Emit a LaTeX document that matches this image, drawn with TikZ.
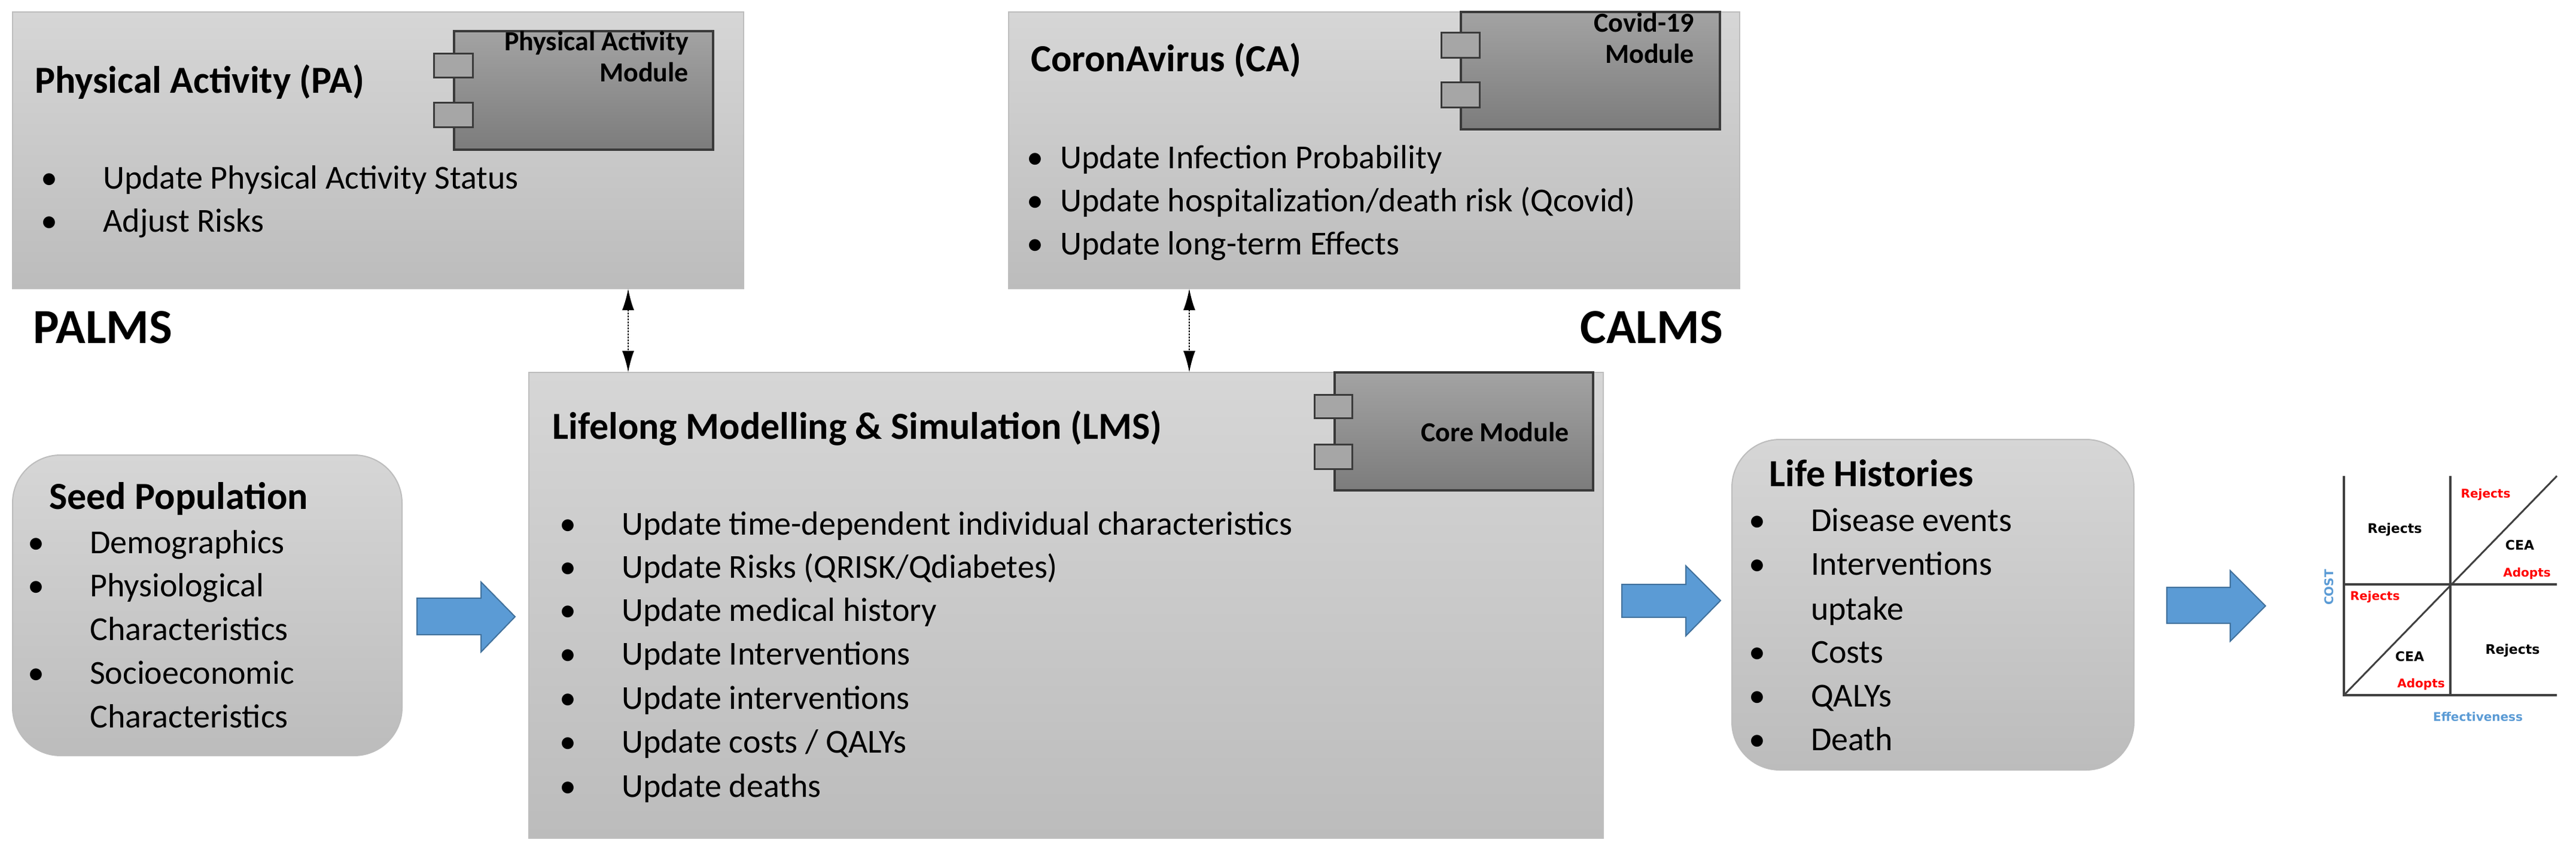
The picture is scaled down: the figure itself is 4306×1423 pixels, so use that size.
\documentclass[tikz,border=0pt]{standalone}
\usepackage{fontspec}
\setmainfont{Carlito}
\newfontfamily\chartfont{DejaVu Sans}
\usetikzlibrary{arrows.meta}
\definecolor{boxtop}{HTML}{D6D6D6}
\definecolor{boxbot}{HTML}{BCBCBC}
\definecolor{boxline}{HTML}{BDBDBD}
\definecolor{modtop}{HTML}{A3A3A3}
\definecolor{modbot}{HTML}{7C7C7C}
\definecolor{modline}{HTML}{3A3A3A}
\definecolor{flow}{HTML}{5B9BD5}
\definecolor{flowline}{HTML}{41719C}
\definecolor{axislbl}{HTML}{5B9BD5}
\definecolor{redlbl}{HTML}{FF0000}
\tikzset{
  panel/.style={draw=boxline, line width=2pt, top color=boxtop, bottom color=boxbot},
  module/.style={draw=modline, line width=4pt, top color=modtop, bottom color=modbot},
  tab/.style={draw=modline, line width=3pt, fill=gray!70},
  ttl/.style={anchor=base west, inner sep=0, font=\fontsize{64}{70}\selectfont\bfseries},
  body/.style={anchor=base west, inner sep=0, font=\fontsize{56}{64}\selectfont},
  modtxt/.style={anchor=base east, inner sep=0, font=\fontsize{46}{52}\selectfont\bfseries, align=right},
  big/.style={anchor=base west, inner sep=0, font=\fontsize{82}{90}\selectfont\bfseries},
  flowarrow/.style={fill=flow, draw=flowline, line width=2pt},
  link/.style={densely dashed, line width=2.5pt, {Latex[length=36pt,width=20pt]}-{Latex[length=36pt,width=20pt]}},
  axis/.style={draw=black!75, line width=4pt},
  blk/.style={inner sep=0, font=\chartfont\fontsize{22}{24}\selectfont\bfseries},
  red/.style={inner sep=0, text=redlbl, font=\chartfont\fontsize{20}{22}\selectfont\bfseries},
  axl/.style={inner sep=0, text=axislbl, font=\chartfont\fontsize{20}{22}\selectfont\bfseries},
}
\newcommand{\bul}[3]{\node[body] at (#1-104,#3) {\textbullet}; \node[body] at (#1,#3) {#2};}
\newcommand{\bulc}[3]{\node[body] at (#1-56,#3) {\textbullet}; \node[body] at (#1,#3) {#2};}
\begin{document}
\begin{tikzpicture}[x=1pt,y=-1pt]
\useasboundingbox (0,0) rectangle (4306,1423);
% PA panel
\path[panel] (21,20) rectangle (1243,482);
\coordinate (PAb) at (1050,482);
\path[module] (759,52) rectangle (1192,250);
\path[tab] (725,90) rectangle (790,130);
\path[tab] (725,172) rectangle (790,213);
\node[modtxt] (pamod) at (1151,137) {Physical Activity\\Module};
\node[ttl] (pat) at (58,156) {Physical Activity (PA)};
\bul{172}{Update Physical Activity Status}{316}
\bul{172}{Adjust Risks}{387}
\node[big] (palms) at (55,573) {PALMS};
% CA panel
\path[panel] (1686,20) rectangle (2908,482);
\coordinate (CAb) at (1988,482);
\path[module] (2442,20) rectangle (2875,216);
\path[tab] (2409,55) rectangle (2473,97);
\path[tab] (2409,138) rectangle (2473,180);
\node[modtxt] at (2832,106) {Covid-19\\Module};
\node[ttl] (cat) at (1723,120) {CoronAvirus (CA)};
\bulc{1772}{Update Infection Probability}{282}
\bulc{1772}{Update hospitalization/death risk (Qcovid)}{353}
\bulc{1772}{Update long-term Effects}{425}
\node[big, anchor=base east] (calms) at (2880,573) {CALMS};
% LMS panel
\path[panel] (884,622) rectangle (2680,1400);
\coordinate (LMSa) at (1050,622);
\coordinate (LMSb) at (1988,622);
\path[module] (2231,622) rectangle (2663,819);
\path[tab] (2197,659) rectangle (2260,698);
\path[tab] (2197,742) rectangle (2260,783);
\node[modtxt] at (2623,737) {Core Module};
\node[ttl] (lmst) at (923,733) {Lifelong Modelling \& Simulation (LMS)};
\bul{1039}{Update time-dependent individual characteristics}{893}
\bul{1039}{Update Risks (QRISK/Qdiabetes)}{965}
\bul{1039}{Update medical history}{1037}
\bul{1039}{Update Interventions}{1110}
\bul{1039}{Update interventions}{1184}
\bul{1039}{Update costs / QALYs}{1257}
\bul{1039}{Update deaths}{1331}
% links
\draw[link] (PAb) -- (LMSa);
\draw[link] (CAb) -- (LMSb);
% Seed population
\path[panel, rounded corners=80pt] (21,760) rectangle (672,1262);
\node[ttl] (seedt) at (82,850) {Seed Population};
\bul{150}{Demographics}{924}
\bul{150}{Physiological}{996}
\node[body] at (150,1069) {Characteristics};
\bul{150}{Socioeconomic}{1142}
\node[body] at (150,1215) {Characteristics};
% Life histories
\path[panel, rounded corners=80pt] (2895,734) rectangle (3567,1286);
\node[ttl] (lht) at (2957,812) {Life Histories};
\bul{3027}{Disease events}{887}
\bul{3027}{Interventions}{960}
\node[body] at (3027,1035) {uptake};
\bul{3027}{Costs}{1107}
\bul{3027}{QALYs}{1180}
\bul{3027}{Death}{1253}
% flow arrows
\path[flowarrow] (697,999) -- (804,999) -- (804,972) -- (861,1030) -- (804,1089) -- (804,1060) -- (697,1060) -- cycle;
\path[flowarrow] (2711,976) -- (2818,976) -- (2818,945) -- (2876,1003) -- (2818,1062) -- (2818,1031) -- (2711,1031) -- cycle;
\path[flowarrow] (3622,981) -- (3728,981) -- (3728,953) -- (3787,1012) -- (3728,1071) -- (3728,1041) -- (3622,1041) -- cycle;
% CEA chart
\draw[axis] (3918,795) -- (3918,1161) -- (4274,1161);
\draw[axis] (3918,976) -- (4274,976);
\draw[axis] (4096,795) -- (4096,1161);
\draw[axis, line width=3pt] (3918,1161) -- (4274,795);
\node[blk] at (4003,885) {Rejects};
\node[red] at (4155,826) {Rejects};
\node[blk] at (4212,910) {CEA};
\node[red] at (4224,958) {Adopts};
\node[red] at (3970,997) {Rejects};
\node[blk] at (4028,1096) {CEA};
\node[red] at (4047,1143) {Adopts};
\node[blk] at (4200,1087) {Rejects};
\node[axl, rotate=90] at (3893,981) {COST};
\node[axl] at (4142,1197) {Effectiveness};
\end{tikzpicture}
\end{document}
